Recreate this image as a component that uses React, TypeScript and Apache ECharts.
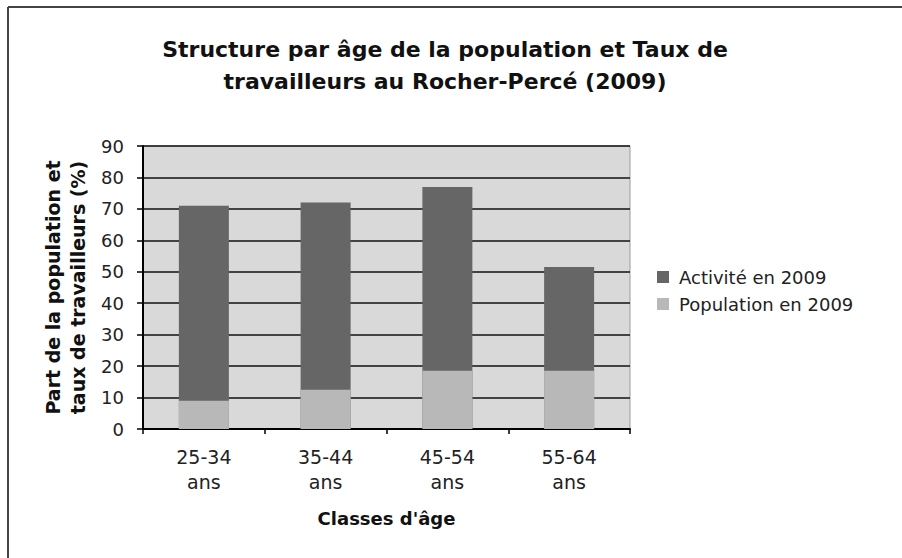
import React, { useEffect, useRef } from "react";
import * as echarts from "echarts";

const categories = ["25-34\nans", "35-44\nans", "45-54\nans", "55-64\nans"];
const activite = [71, 72, 77, 51.5];
const population = [9, 12.5, 18.5, 18.5];
const seriesNames = ["Activité en 2009", "Population en 2009"];

const FONT = "'DejaVu Sans', Verdana, sans-serif";

export default function App() {
  const ref = useRef<HTMLDivElement>(null);
  useEffect(() => {
    if (!ref.current) return;
    const chart = echarts.init(ref.current, undefined, { renderer: "svg" });
    chart.setOption({
      animation: false,
      backgroundColor: "#ffffff",
      textStyle: { fontFamily: FONT },
      title: {
        text: "Structure par âge de la population et Taux de\ntravailleurs au Rocher-Percé (2009)",
        left: 440,
        top: 28,
        textAlign: "center",
        textStyle: { fontFamily: FONT, fontSize: 22, fontWeight: "bold", color: "#111", lineHeight: 32 },
      },
      graphic: [
        {
          type: "line",
          shape: { x1: 8, y1: 7, x2: 902, y2: 7 },
          style: { stroke: "#444", lineWidth: 2 },
          silent: true,
        },
        {
          type: "line",
          shape: { x1: 8, y1: 7, x2: 8, y2: 558 },
          style: { stroke: "#444", lineWidth: 2 },
          silent: true,
        },
      ],
      legend: {
        orient: "vertical",
        left: 652,
        top: 262,
        itemWidth: 12,
        itemHeight: 12,
        itemGap: 7,
        icon: "rect",
        data: seriesNames,
        textStyle: { fontFamily: FONT, fontSize: 18, color: "#222", lineHeight: 20, padding: [0, 0, 0, 5] },
      },
      grid: {
        left: 143,
        top: 146,
        right: 272,
        bottom: 129,
        show: true,
        backgroundColor: "#d9d9d9",
        borderColor: "#9a9a9a",
        borderWidth: 1,
      },
      xAxis: {
        type: "category",
        data: categories,
        name: "Classes d'âge",
        nameLocation: "middle",
        nameGap: 79,
        nameTextStyle: { fontFamily: FONT, fontSize: 18, fontWeight: "bold", color: "#111", lineHeight: 20 },
        axisLine: { lineStyle: { color: "#000", width: 2 } },
        axisTick: { show: true, length: 5, lineStyle: { color: "#000", width: 1.5 } },
        axisLabel: { fontFamily: FONT, fontSize: 19, color: "#222", lineHeight: 25, margin: 15 },
      },
      yAxis: {
        type: "value",
        min: 0,
        max: 90,
        interval: 10,
        name: "Part de la population et\ntaux de travailleurs (%)",
        nameLocation: "middle",
        nameRotate: 90,
        nameGap: 53,
        nameTextStyle: { fontFamily: FONT, fontSize: 19, fontWeight: "bold", color: "#111", lineHeight: 25 },
        axisLine: { show: true, lineStyle: { color: "#000", width: 2 } },
        axisTick: { show: true, length: 6, lineStyle: { color: "#000", width: 1.5 } },
        axisLabel: { fontFamily: FONT, fontSize: 18, color: "#222", margin: 19 },
        splitLine: { show: true, lineStyle: { color: "#111", width: 1.6 } },
      },
      series: [
        {
          name: seriesNames[0],
          type: "bar",
          data: activite,
          barWidth: 50,
          barGap: "-100%",
          itemStyle: { color: "#666666" },
        },
        {
          name: seriesNames[1],
          type: "bar",
          data: population,
          barWidth: 50,
          barGap: "-100%",
          itemStyle: { color: "#b8b8b8" },
        },
      ],
    });
    return () => chart.dispose();
  }, []);
  return (
    <div
      ref={ref}
      style={{ position: "fixed", left: 0, top: 0, width: 902, height: 558 }}
    />
  );
}
